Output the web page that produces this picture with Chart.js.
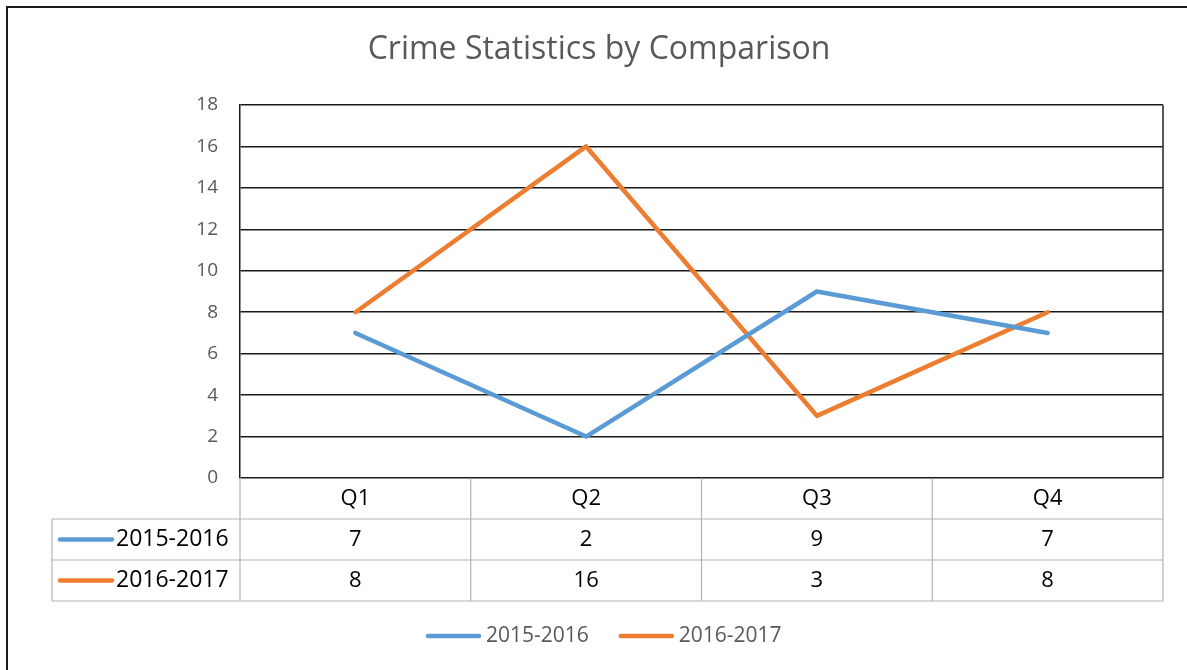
<!DOCTYPE html>
<html>
<head>
<meta charset="utf-8">
<script src="https://cdn.jsdelivr.net/npm/chart.js@4"></script>
<style>
  html, body { margin: 0; padding: 0; background: #fff; }
  #wrap { width: 1187px; height: 670px; position: relative; }
</style>
</head>
<body>
<div id="wrap"><canvas id="crimeChart" width="1187" height="670"></canvas></div>
<script>
// chart data
const quarters = ['Q1', 'Q2', 'Q3', 'Q4'];
const series2015 = [7, 2, 9, 7];
const series2016 = [8, 16, 3, 8];
const seriesNames = ['2015-2016', '2016-2017'];
const seriesColors = ['#5B9BD5', '#ED7D31'];
const chartTitle = 'Crime Statistics by Comparison';

const FONT = "'Open Sans', 'Noto Sans', sans-serif";
const ROW_H = 41;

// draws title, outer frame, plot border, data table and legend
const tablePlugin = {
    id: 'dataTable',
    afterDraw(chart) {
        const c = chart.ctx;
        const area = chart.chartArea;
        const xs = chart.scales.x;
        const half = (xs.getPixelForValue(1) - xs.getPixelForValue(0)) / 2;
        const values = [series2015, series2016];

        c.save();
        // title
        c.fillStyle = '#595959';
        c.font = '32px ' + FONT;
        c.textAlign = 'center';
        c.textBaseline = 'middle';
        c.fillText(chartTitle, 599, 50);

        // frame (top + left edges only visible)
        c.strokeStyle = '#1a1a1a';
        c.lineWidth = 2;
        c.beginPath();
        c.moveTo(7, 670);
        c.lineTo(7, 7);
        c.lineTo(1187, 7);
        c.stroke();

        // right border of plot
        c.strokeStyle = '#222';
        c.lineWidth = 1.5;
        c.beginPath();
        c.moveTo(area.right, area.top);
        c.lineTo(area.right, area.bottom);
        c.stroke();

        // table grid
        const top = area.bottom;
        const labelLeft = 52;
        c.strokeStyle = '#b4b4b4';
        c.lineWidth = 1.2;
        c.beginPath();
        for (let i = 0; i <= quarters.length; i++) {
            const x = i < quarters.length ? xs.getPixelForValue(i) - half : xs.getPixelForValue(quarters.length - 1) + half;
            c.moveTo(x, top);
            c.lineTo(x, top + ROW_H * 3);
        }
        for (let r = 1; r <= 3; r++) {
            c.moveTo(labelLeft, top + ROW_H * r);
            c.lineTo(area.right, top + ROW_H * r);
        }
        c.moveTo(labelLeft, top + ROW_H);
        c.lineTo(labelLeft, top + ROW_H * 3);
        c.stroke();

        // header + values
        c.fillStyle = '#000';
        c.font = '22px ' + FONT;
        c.textAlign = 'center';
        quarters.forEach((q, i) => {
            const x = xs.getPixelForValue(i);
            c.fillText(q, x, top + ROW_H / 2);
            values.forEach((vals, r) => {
                c.fillText(String(vals[i]), x, top + ROW_H * (r + 1.5));
            });
        });

        // row labels with line keys
        c.textAlign = 'left';
        c.lineCap = 'round';
        c.font = '23px ' + FONT;
        seriesNames.forEach((name, r) => {
            const y = top + ROW_H * (r + 1.5);
            c.strokeStyle = seriesColors[r];
            c.lineWidth = 4.5;
            c.beginPath();
            c.moveTo(60, y);
            c.lineTo(112, y);
            c.stroke();
            c.fillStyle = '#000';
            c.fillText(name, 116, y);
        });

        // bottom legend
        c.font = '21px ' + FONT;
        const keyW = 55, gap = 5, spacing = 30;
        const widths = seriesNames.map(n => keyW + gap + c.measureText(n).width);
        let x = 426;
        const ly = 636;
        seriesNames.forEach((name, r) => {
            c.strokeStyle = seriesColors[r];
            c.lineWidth = 4.5;
            c.beginPath();
            c.moveTo(x + 2, ly);
            c.lineTo(x + keyW - 2, ly);
            c.stroke();
            c.fillStyle = '#595959';
            c.fillText(name, x + keyW + gap, ly);
            x += widths[r] + spacing;
        });
        c.restore();
    }
};

const chart = new Chart(document.getElementById('crimeChart').getContext('2d'), {
    type: 'line',
    data: {
        labels: quarters,
        datasets: [
            {
                label: seriesNames[0],
                data: series2015,
                borderColor: seriesColors[0],
                backgroundColor: seriesColors[0],
                borderWidth: 4.5,
                pointRadius: 0,
                borderCapStyle: 'round',
                borderJoinStyle: 'round',
                tension: 0
            },
            {
                label: seriesNames[1],
                data: series2016,
                borderColor: seriesColors[1],
                backgroundColor: seriesColors[1],
                borderWidth: 4.5,
                pointRadius: 0,
                borderCapStyle: 'round',
                borderJoinStyle: 'round',
                tension: 0
            }
        ]
    },
    options: {
        responsive: false,
        animation: false,
        layout: { padding: { left: 0, right: 24, top: 105, bottom: 0 } },
        plugins: {
            legend: { display: false },
            tooltip: { enabled: false },
            title: { display: false }
        },
        scales: {
            x: {
                offset: true,
                grid: { display: false, drawTicks: false },
                border: { display: false },
                ticks: { display: false },
                afterFit(s) { s.height = 192; }
            },
            y: {
                min: 0,
                max: 18,
                ticks: {
                    stepSize: 2,
                    color: '#595959',
                    padding: 22,
                    font: { family: FONT, size: 19 }
                },
                grid: { color: '#1a1a1a', lineWidth: 1.5, drawTicks: false },
                border: { display: true, color: '#1a1a1a', width: 1.5 },
                afterFit(s) { s.width = 240; }
            }
        }
    },
    plugins: [tablePlugin]
});
</script>
</body>
</html>
